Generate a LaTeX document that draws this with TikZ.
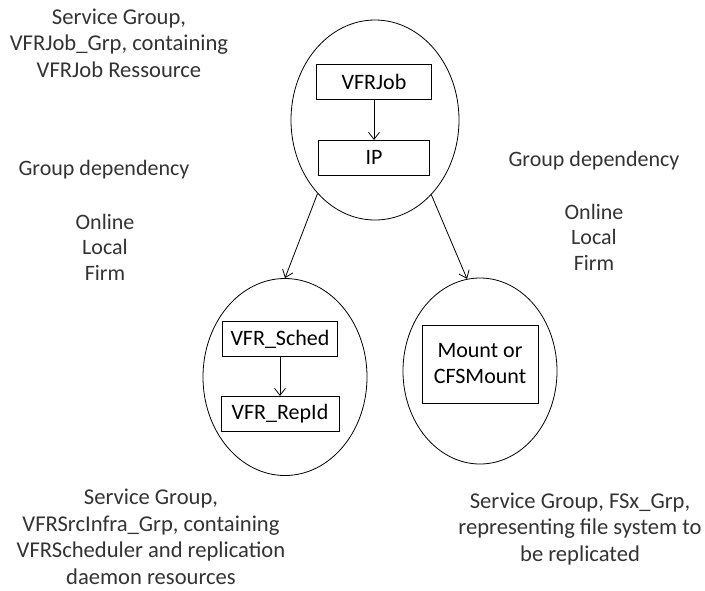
\documentclass[tikz,border=0pt]{standalone}
\usepackage{fontspec}
\setmainfont{Carlito}
\usepackage{tikz}
\usetikzlibrary{arrows.meta,positioning,shapes.geometric}
\tikzset{
    sgellipse/.style={ellipse, draw, line width=0.8pt, inner sep=0pt},
    resbox/.style={draw, line width=0.9pt, align=center, font=\fontsize{22}{26}\selectfont, minimum width=115pt, minimum height=35pt, inner sep=2pt},
    deparrow/.style={-{Straight Barb[length=7pt,width=11pt]}, line width=0.8pt},
    sglabel/.style={align=center, inner sep=0pt, text=black!80, font=\fontsize{22.6}{26.5}\selectfont},
    deplabel/.style={align=center, text=black!80, font=\fontsize{22}{25.5}\selectfont}
}
\begin{document}
\begin{tikzpicture}[x=1pt, y=-1pt, node distance=40pt]
    \useasboundingbox (0,0) rectangle (705,590);

    % service groups
    \node[sgellipse, minimum width=168pt, minimum height=200pt] (jobgrp) at (375,120) {};
    \node[sgellipse, minimum width=164pt, minimum height=197pt] (infragrp) at (285,377) {};
    \node[sgellipse, minimum width=154pt, minimum height=186pt] (fsgrp) at (480,371) {};

    % resources
    \node[resbox] (vfrjob) at (374,82) {VFRJob};
    \node[resbox, below=40pt of vfrjob.south, anchor=north, minimum width=111pt] (ip) {IP};
    \node[resbox] (sched) at (280,339) {VFR\_Sched};
    \node[resbox, below=39pt of sched.south, anchor=north, minimum width=118pt] (repld) {VFR\_RepId};
    \node[resbox, minimum width=116pt, minimum height=78pt] (mount) at (480,364) {Mount or\\CFSMount};

    \draw[deparrow] (vfrjob) -- (ip);
    \draw[deparrow] (sched) -- (repld);
    \draw[deparrow] (jobgrp.232) -- (infragrp.north);
    \draw[deparrow] (jobgrp.307) -- (fsgrp.98);

    % labels
    \node[sglabel] (jobtxt) at (119,43) {Service Group,\\VFRJob\_Grp, containing\\VFRJob Ressource};
    \node[deplabel] (depleft) at (104,170) {Group dependency};
    \node[deplabel] (typeleft) at (105,247) {Online\\Local\\Firm};
    \node[deplabel] (depright) at (594,161) {Group dependency};
    \node[deplabel] (typeright) at (594,237) {Online\\Local\\Firm};
    \node[sglabel] (infratxt) at (151,537) {Service Group,\\VFRSrcInfra\_Grp, containing\\VFRScheduler and replication\\daemon resources};
    \node[sglabel] (fstxt) at (580,529) {Service Group, FSx\_Grp,\\representing file system to\\be replicated};
\end{tikzpicture}
\end{document}
